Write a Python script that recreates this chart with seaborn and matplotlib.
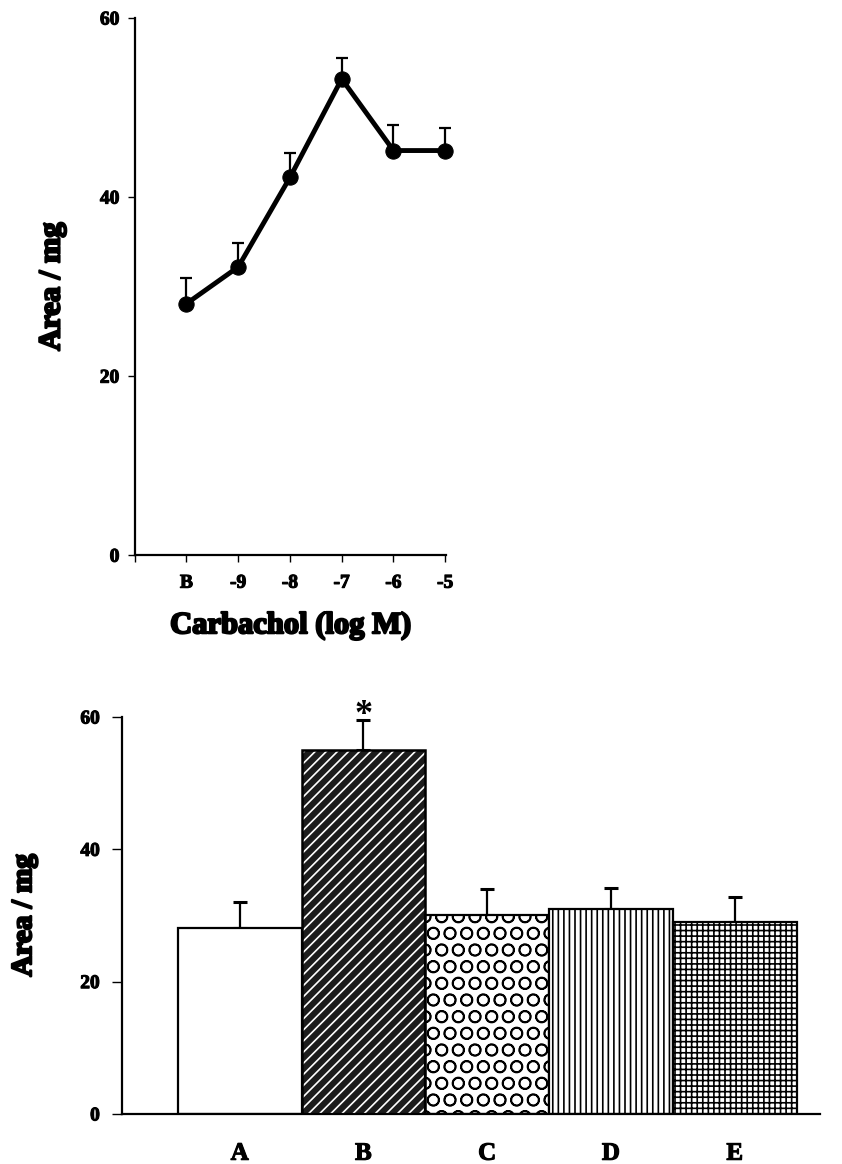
import numpy as np
import pandas as pd
import matplotlib
matplotlib.use("Agg")
import matplotlib.pyplot as plt
import matplotlib.patheffects as pe
import seaborn as sns

# top panel: concentration-response
conc_labels = ["B", "-9", "-8", "-7", "-6", "-5"]
conc_area = [28.1, 32.2, 42.2, 53.2, 45.2, 45.2]
conc_err = [2.9, 2.7, 2.7, 2.3, 2.8, 2.5]

# bottom panel: groups
groups = ["A", "B", "C", "D", "E"]
group_area = [28.1, 55.0, 30.0, 31.0, 29.0]
group_err = [3.9, 4.5, 4.0, 3.2, 3.8]
hatches = ["", "///", "O", "|||", "+++"]

sns.set_theme(style="ticks")
plt.rcParams["font.family"] = ["Liberation Serif", "DejaVu Serif"]
plt.rcParams["font.weight"] = "bold"
plt.rcParams["hatch.linewidth"] = 1.2
for k in ["text.color", "axes.labelcolor", "xtick.color", "ytick.color", "axes.edgecolor"]:
    plt.rcParams[k] = "black"

heavy = [pe.withStroke(linewidth=1.6, foreground="black")]
semi = [pe.withStroke(linewidth=0.8, foreground="black")]

fig = plt.figure(figsize=(8.42, 11.64), dpi=100)

# ---- top chart
ax1 = fig.add_axes([0.160, 0.523, 0.370, 0.4615])
pos = np.arange(1, len(conc_labels) + 1)
df1 = pd.DataFrame({"pos": pos, "area": conc_area})
ax1.errorbar(pos, conc_area, yerr=[np.zeros(len(pos)), conc_err], fmt="none",
             ecolor="black", elinewidth=1.6, capsize=4, capthick=1.6, zorder=2,
             clip_on=False)
sns.lineplot(data=df1, x="pos", y="area", ax=ax1, color="black", linewidth=3.5,
             marker="o", markersize=11, markeredgecolor="black", zorder=3,
             clip_on=False)
ax1.set_xlim(0, 6.02)
ax1.set_ylim(0, 60)
ax1.set_xticks(range(0, 7))
ax1.set_xticklabels([""] + conc_labels)
ax1.set_yticks([0, 20, 40, 60])
ax1.tick_params(axis="both", direction="out", length=5, width=1, labelsize=14)
ax1.tick_params(axis="x", pad=9)
ax1.tick_params(axis="y", pad=6)
for s in ["top", "right"]:
    ax1.spines[s].set_visible(False)
for s in ["left", "bottom"]:
    ax1.spines[s].set_linewidth(1.6)
ax1.set_xlabel("Carbachol (log M)", fontsize=22, fontweight="bold", labelpad=14,
               path_effects=heavy)
ax1.set_ylabel("Area / mg", fontsize=22, fontweight="bold", labelpad=24,
               path_effects=heavy)
for t in ax1.get_xticklabels() + ax1.get_yticklabels():
    t.set_fontweight("bold")
    t.set_path_effects(semi)

# ---- bottom chart
ax2 = fig.add_axes([0.145, 0.043, 0.829, 0.341])
df2 = pd.DataFrame({"group": groups, "area": group_area})
sns.barplot(data=df2, x="group", y="area", ax=ax2, width=1.0, color="white",
            edgecolor="black", linewidth=1.6, errorbar=None, zorder=2)
for i, p in enumerate(ax2.patches):
    p.set_hatch(hatches[i])
    if groups[i] == "B":
        p.set_facecolor("#1c1c1c")
        p.set_edgecolor("white")
        p.set_linewidth(0)
ax2.bar([1], [group_area[1]], width=1.0, fill=False, edgecolor="black", linewidth=1.8, zorder=3)
ax2.errorbar(range(len(groups)), group_area, yerr=[np.zeros(len(groups)), group_err],
             fmt="none", ecolor="black", elinewidth=1.6, capsize=5, capthick=2.2, zorder=1)
ax2.text(1, group_area[1] + group_err[1] - 1.7, "*", ha="center", va="bottom",
         fontsize=26, fontweight="bold", color="black")
ax2.set_xlim(-0.95, 4.69)
ax2.set_ylim(0, 60)
ax2.set_yticks([0, 20, 40, 60])
ax2.tick_params(axis="y", direction="out", length=7, width=1, labelsize=14, pad=9)
ax2.tick_params(axis="x", length=0, pad=20, labelsize=18)
for s in ["top", "right"]:
    ax2.spines[s].set_visible(False)
for s in ["left", "bottom"]:
    ax2.spines[s].set_linewidth(1.6)
ax2.set_xlabel("")
ax2.set_ylabel("Area / mg", fontsize=21, fontweight="bold", labelpad=31,
               path_effects=heavy)
for t in ax2.get_xticklabels() + ax2.get_yticklabels():
    t.set_fontweight("bold")
    t.set_path_effects(semi)

fig.savefig("out.png", dpi=100, facecolor="white")
